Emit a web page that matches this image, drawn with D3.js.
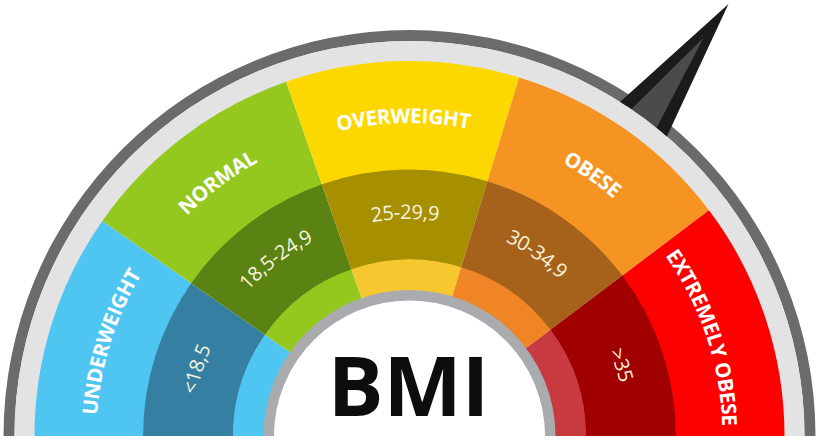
<!DOCTYPE html>
<html><head><meta charset="utf-8">
<script src="https://cdn.jsdelivr.net/npm/d3@7"></script>
<style>html,body{margin:0;padding:0;background:#fff;}svg{display:block;}</style>
</head><body>
<svg id="chart" width="818" height="440"></svg>
<script>
// ---- data ----
const categories = ["UNDERWEIGHT", "NORMAL", "OVERWEIGHT", "OBESE", "EXTREMELY OBESE"];
const ranges = ["<18,5", "18,5-24,9", "25-29,9", "30-34,9", ">35"];
const bmiBreaks = [10, 18.5, 25, 30, 35, 40];
const outerColors = ["#4fc5f2", "#95c81e", "#fdd800", "#f69423", "#fd0101"];
const darkColors = ["#3580a2", "#5b8314", "#a78f02", "#a6621a", "#a00000"];
const innerColors = ["#4fc5f2", "#95c81e", "#f6c72f", "#ef8525", "#c93a40"];
const needleValue = 32.7;
const centerLabel = "BMI";

// ---- layout ----
const W = 818, H = 440, cx = 409.5, cy = 436;
const svg = d3.select("#chart");
const g = svg.append("g").attr("transform", `translate(${cx},${cy})`);
const deg = Math.PI / 180;

// gauge angle for a BMI value (segment boundaries as drawn in the reference, degrees from the left)
const gaugeAngles = [0, 35, 70.8, 107, 143, 180];
const bmiToAngle = d3.scaleLinear().domain(bmiBreaks).range(gaugeAngles.map(a => (a - 90) * deg));
const segs = categories.map((c, i) => ({
  cat: c, range: ranges[i],
  startAngle: bmiToAngle(bmiBreaks[i]), endAngle: bmiToAngle(bmiBreaks[i + 1])
}));

const full = {startAngle: -90 * deg, endAngle: 90 * deg};
const arcR = (r0, r1) => d3.arc().innerRadius(r0).outerRadius(r1);

// dark rim
g.append("path").attr("d", arcR(395, 406)(full)).attr("fill", "#6b6b6b");

// needle (behind light band)
const na = bmiToAngle(needleValue);
const needle = (len, halfW, r0) => {
  const ux = Math.sin(na), uy = -Math.cos(na);
  const px = Math.cos(na), py = Math.sin(na);
  return `M${ux * r0 + px * halfW},${uy * r0 + py * halfW}L${ux * len},${uy * len}L${ux * r0 - px * halfW},${uy * r0 - py * halfW}Z`;
};
g.append("path").attr("d", needle(537, 34, 370)).attr("fill", "#1b1b1b");
g.append("path").attr("d", needle(495, 19.5, 370)).attr("fill", "#4b4b4b");

// light rim
g.append("path").attr("d", arcR(374, 395)(full)).attr("fill", "#e3e3e3");

g.selectAll("path.outer").data(segs).join("path").attr("class", "outer")
  .attr("d", arcR(266, 375)).attr("fill", (d, i) => outerColors[i]);
g.selectAll("path.dark").data(segs).join("path").attr("class", "dark")
  .attr("d", arcR(176, 266.5)).attr("fill", (d, i) => darkColors[i]);
g.selectAll("path.inner").data(segs).join("path").attr("class", "inner")
  .attr("d", arcR(145, 176.5)).attr("fill", (d, i) => innerColors[i]);

// inner gray ring + white centre
g.append("path").attr("d", arcR(135, 146)(full)).attr("fill", "#a9abae");
g.append("path").attr("d", arcR(0, 135.5)(full)).attr("fill", "#ffffff");

// text paths
const defs = svg.append("defs");
function arcPath(r, a0, a1) {
  const p = d3.path();
  const s = a0 - Math.PI / 2, e = a1 - Math.PI / 2;
  p.moveTo(cx + r * Math.cos(s), cy + r * Math.sin(s));
  p.arc(cx, cy, r, s, e, false);
  return p.toString();
}
segs.forEach((d, i) => {
  const a0 = d.startAngle - 15 * deg, a1 = d.endAngle + 15 * deg;
  defs.append("path").attr("id", "lo" + i).attr("d", arcPath(321, a0, a1));
  defs.append("path").attr("id", "li" + i).attr("d", arcPath(225, a0, a1));
});

svg.selectAll("text.cat").data(segs).join("text").attr("class", "cat")
  .attr("font-family", "Open Sans, sans-serif").attr("font-weight", 700).attr("font-size", 20.5)
  .attr("fill", "#ffffff").attr("dominant-baseline", "central")
  .append("textPath").attr("href", (d, i) => "#lo" + i).attr("startOffset", "50%")
  .attr("text-anchor", "middle").text(d => d.cat);

svg.selectAll("text.rng").data(segs).join("text").attr("class", "rng")
  .attr("font-family", "Open Sans, sans-serif").attr("font-weight", 400).attr("font-size", 20)
  .attr("fill", "#f7f3df").attr("dominant-baseline", "central")
  .append("textPath").attr("href", (d, i) => "#li" + i).attr("startOffset", "50%")
  .attr("text-anchor", "middle").text(d => d.range);

// centre label
svg.append("text").attr("x", cx - 1).attr("y", 416).attr("text-anchor", "middle")
  .attr("font-family", "Open Sans, sans-serif").attr("font-weight", 700).attr("font-size", 83)
  .attr("fill", "#0d0d0d").text(centerLabel);
</script>
</body></html>
